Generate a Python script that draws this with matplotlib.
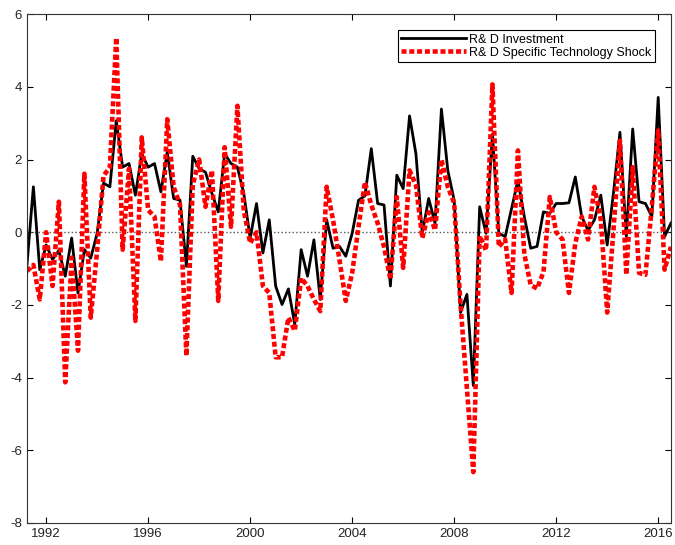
import numpy as np
import matplotlib
matplotlib.use("Agg")
import matplotlib.pyplot as plt

plt.rcParams['font.family'] = ['Liberation Sans', 'DejaVu Sans']
plt.rcParams['axes.unicode_minus'] = False

# quarterly, 1991Q2 .. 2016Q3
dates = 1991.25 + 0.25 * np.arange(102)

rd_investment = [
    -0.89, 1.25, -1.03, -0.35, -0.75, -0.5, -1.21, -0.16, -1.67, -0.48,
    -0.71, -0.03, 1.35, 1.25, 3.07, 1.79, 1.89, 1.02, 2.16, 1.79,
    1.89, 1.11, 2.21, 0.93, 0.88, -0.94, 2.09, 1.75, 1.65, 1.07,
    0.56, 2.16, 1.89, 1.79, 1.07, -0.16, 0.79, -0.57, 0.34, -1.48,
    -1.99, -1.56, -2.53, -0.48, -1.21, -0.21, -1.85, 0.34, -0.44, -0.39,
    -0.66, -0.03, 0.88, 1.0, 2.3, 0.79, 0.75, -1.48, 1.57, 1.2,
    3.2, 2.16, -0.03, 0.93, 0.25, 3.39, 1.7, 0.88, -2.21, -1.71,
    -4.22, 0.7, -0.03, 2.7, -0.03, -0.12, 0.65, 1.43, 0.43, -0.44,
    -0.39, 0.56, 0.52, 0.79, 0.79, 0.81, 1.52, 0.43, 0.05, 0.34,
    1.02, -0.35, 1.1, 2.75, -0.12, 2.84, 0.84, 0.79, 0.43, 3.71,
    -0.12, 0.25,
]

rd_shock = [
    -1.07, -0.9, -1.85, 0.0, -1.48, 0.84, -4.13, -0.7, -3.26, 1.61,
    -2.35, -0.5, 1.55, 1.79, 5.35, -0.48, 1.75, -2.44, 2.61, 0.61,
    0.43, -0.8, 3.11, 1.25, 0.75, -3.4, 1.3, 2.0, 0.7, 1.7,
    -1.89, 2.34, 0.15, 3.48, 0.6, -0.3, 0.0, -1.48, -1.67, -3.44,
    -3.44, -2.35, -2.71, -1.26, -1.48, -1.85, -2.17, 1.25, 0.34, -0.75,
    -1.89, -1.12, 0.15, 1.38, 0.75, 0.25, -0.4, -1.3, 0.97, -0.98,
    1.7, 1.3, -0.16, 0.55, 0.06, 2.0, 1.25, 0.8, -2.0, -4.3,
    -6.6, -0.1, -0.5, 4.07, -0.4, -0.2, -1.67, 2.25, -0.6, -1.45,
    -1.55, -1.1, 0.97, 0.0, -0.2, -1.67, -0.3, 0.43, -0.2, 1.25,
    0.34, -2.21, 0.1, 2.52, -1.17, 1.79, -1.12, -1.17, 0.7, 2.8,
    -1.03, -0.4,
]

fig = plt.figure(figsize=(6.75, 5.45), dpi=100)
ax = fig.add_axes([0.04, 0.0404, 0.954, 0.9336])

ax.axhline(0, color='#555555', ls=':', lw=1.0)
ax.plot(dates, rd_investment, color='black', lw=2.0, label='R& D Investment')
ax.plot(dates, rd_shock, color='red', lw=3.3, ls=(0, (1.1, 0.6)),
        dash_capstyle='butt', label='R& D Specific Technology Shock')

ax.set_xlim(dates[0], dates[-1])
ax.set_ylim(-8, 6)
ax.set_xticks(np.arange(1992, 2017, 4))
ax.set_yticks(np.arange(-8, 7, 2))
ax.tick_params(direction='in', top=True, right=True, length=4,
               labelsize=9.5, labelcolor='#222222', width=0.8)
for s in ax.spines.values():
    s.set_linewidth(0.8)
    s.set_color('#333333')

leg = ax.legend(loc='upper right', bbox_to_anchor=(0.975, 0.968), fontsize=9,
                fancybox=False, framealpha=1, edgecolor='black',
                borderpad=0.25, labelspacing=0.1, handlelength=5.2,
                handletextpad=0.25, borderaxespad=0)
leg.get_frame().set_linewidth(0.8)

fig.savefig('out.png', dpi=100)
